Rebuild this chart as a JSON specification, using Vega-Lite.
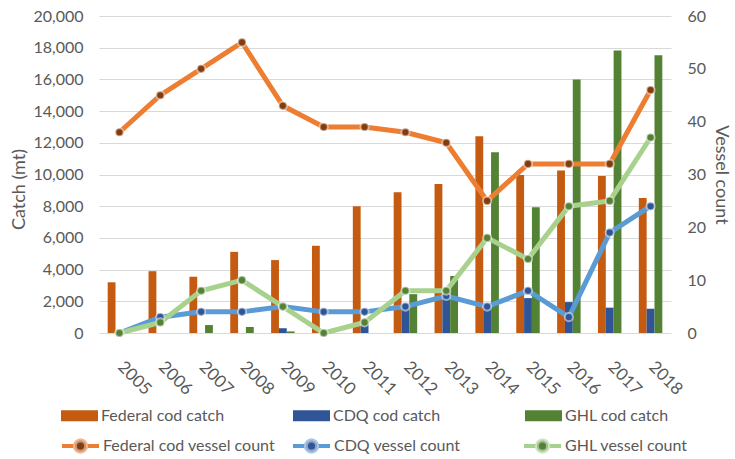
{
  "$schema": "https://vega.github.io/schema/vega-lite/v6.json",
  "width": 572,
  "height": 317,
  "autosize": "none",
  "padding": {"left": 99, "top": 16, "right": 64, "bottom": 126},
  "background": "white",
  "config": {
    "view": {"stroke": null},
    "font": "Lato",
    "axis": {
      "labelFont": "Lato",
      "labelFontSize": 16,
      "labelColor": "#595959",
      "titleFont": "Lato",
      "titleFontSize": 18,
      "titleFontWeight": "normal",
      "titleColor": "#595959",
      "domain": false,
      "ticks": false
    },
    "legend": {
      "orient": "none",
      "direction": "horizontal",
      "columns": 3,
      "gridAlign": "all",
      "title": null,
      "padding": 0,
      "labelFont": "Lato",
      "labelFontSize": 16,
      "labelColor": "#595959",
      "labelOffset": 2,
      "labelLimit": 300,
      "symbolSize": 1369
    }
  },
  "datasets": {
    "catchRows": [
      {"Year": "2005", "Series": "Federal cod catch", "Catch": 3200},
      {"Year": "2006", "Series": "Federal cod catch", "Catch": 3900},
      {"Year": "2007", "Series": "Federal cod catch", "Catch": 3550},
      {"Year": "2008", "Series": "Federal cod catch", "Catch": 5120},
      {"Year": "2009", "Series": "Federal cod catch", "Catch": 4600},
      {"Year": "2010", "Series": "Federal cod catch", "Catch": 5500},
      {"Year": "2011", "Series": "Federal cod catch", "Catch": 8000},
      {"Year": "2012", "Series": "Federal cod catch", "Catch": 8880},
      {"Year": "2013", "Series": "Federal cod catch", "Catch": 9400},
      {"Year": "2014", "Series": "Federal cod catch", "Catch": 12420},
      {"Year": "2015", "Series": "Federal cod catch", "Catch": 9970},
      {"Year": "2016", "Series": "Federal cod catch", "Catch": 10260},
      {"Year": "2017", "Series": "Federal cod catch", "Catch": 9900},
      {"Year": "2018", "Series": "Federal cod catch", "Catch": 8520},
      {"Year": "2005", "Series": "CDQ cod catch", "Catch": 0},
      {"Year": "2006", "Series": "CDQ cod catch", "Catch": 0},
      {"Year": "2007", "Series": "CDQ cod catch", "Catch": 0},
      {"Year": "2008", "Series": "CDQ cod catch", "Catch": 0},
      {"Year": "2009", "Series": "CDQ cod catch", "Catch": 300},
      {"Year": "2010", "Series": "CDQ cod catch", "Catch": 0},
      {"Year": "2011", "Series": "CDQ cod catch", "Catch": 800},
      {"Year": "2012", "Series": "CDQ cod catch", "Catch": 1700},
      {"Year": "2013", "Series": "CDQ cod catch", "Catch": 2400},
      {"Year": "2014", "Series": "CDQ cod catch", "Catch": 1700},
      {"Year": "2015", "Series": "CDQ cod catch", "Catch": 2200},
      {"Year": "2016", "Series": "CDQ cod catch", "Catch": 1950},
      {"Year": "2017", "Series": "CDQ cod catch", "Catch": 1600},
      {"Year": "2018", "Series": "CDQ cod catch", "Catch": 1530},
      {"Year": "2005", "Series": "GHL cod catch", "Catch": 0},
      {"Year": "2006", "Series": "GHL cod catch", "Catch": 0},
      {"Year": "2007", "Series": "GHL cod catch", "Catch": 500},
      {"Year": "2008", "Series": "GHL cod catch", "Catch": 380},
      {"Year": "2009", "Series": "GHL cod catch", "Catch": 100},
      {"Year": "2010", "Series": "GHL cod catch", "Catch": 0},
      {"Year": "2011", "Series": "GHL cod catch", "Catch": 0},
      {"Year": "2012", "Series": "GHL cod catch", "Catch": 2450},
      {"Year": "2013", "Series": "GHL cod catch", "Catch": 3600},
      {"Year": "2014", "Series": "GHL cod catch", "Catch": 11400},
      {"Year": "2015", "Series": "GHL cod catch", "Catch": 7930},
      {"Year": "2016", "Series": "GHL cod catch", "Catch": 16000},
      {"Year": "2017", "Series": "GHL cod catch", "Catch": 17820},
      {"Year": "2018", "Series": "GHL cod catch", "Catch": 17530}
    ],
    "vesselRows": [
      {"Year": "2005", "Series": "Federal cod vessel count", "Vessels": 38},
      {"Year": "2006", "Series": "Federal cod vessel count", "Vessels": 45},
      {"Year": "2007", "Series": "Federal cod vessel count", "Vessels": 50},
      {"Year": "2008", "Series": "Federal cod vessel count", "Vessels": 55},
      {"Year": "2009", "Series": "Federal cod vessel count", "Vessels": 43},
      {"Year": "2010", "Series": "Federal cod vessel count", "Vessels": 39},
      {"Year": "2011", "Series": "Federal cod vessel count", "Vessels": 39},
      {"Year": "2012", "Series": "Federal cod vessel count", "Vessels": 38},
      {"Year": "2013", "Series": "Federal cod vessel count", "Vessels": 36},
      {"Year": "2014", "Series": "Federal cod vessel count", "Vessels": 25},
      {"Year": "2015", "Series": "Federal cod vessel count", "Vessels": 32},
      {"Year": "2016", "Series": "Federal cod vessel count", "Vessels": 32},
      {"Year": "2017", "Series": "Federal cod vessel count", "Vessels": 32},
      {"Year": "2018", "Series": "Federal cod vessel count", "Vessels": 46},
      {"Year": "2005", "Series": "CDQ vessel count", "Vessels": 0},
      {"Year": "2006", "Series": "CDQ vessel count", "Vessels": 3},
      {"Year": "2007", "Series": "CDQ vessel count", "Vessels": 4},
      {"Year": "2008", "Series": "CDQ vessel count", "Vessels": 4},
      {"Year": "2009", "Series": "CDQ vessel count", "Vessels": 5},
      {"Year": "2010", "Series": "CDQ vessel count", "Vessels": 4},
      {"Year": "2011", "Series": "CDQ vessel count", "Vessels": 4},
      {"Year": "2012", "Series": "CDQ vessel count", "Vessels": 5},
      {"Year": "2013", "Series": "CDQ vessel count", "Vessels": 7},
      {"Year": "2014", "Series": "CDQ vessel count", "Vessels": 5},
      {"Year": "2015", "Series": "CDQ vessel count", "Vessels": 8},
      {"Year": "2016", "Series": "CDQ vessel count", "Vessels": 3},
      {"Year": "2017", "Series": "CDQ vessel count", "Vessels": 19},
      {"Year": "2018", "Series": "CDQ vessel count", "Vessels": 24},
      {"Year": "2005", "Series": "GHL vessel count", "Vessels": 0},
      {"Year": "2006", "Series": "GHL vessel count", "Vessels": 2},
      {"Year": "2007", "Series": "GHL vessel count", "Vessels": 8},
      {"Year": "2008", "Series": "GHL vessel count", "Vessels": 10},
      {"Year": "2009", "Series": "GHL vessel count", "Vessels": 5},
      {"Year": "2010", "Series": "GHL vessel count", "Vessels": 0},
      {"Year": "2011", "Series": "GHL vessel count", "Vessels": 2},
      {"Year": "2012", "Series": "GHL vessel count", "Vessels": 8},
      {"Year": "2013", "Series": "GHL vessel count", "Vessels": 8},
      {"Year": "2014", "Series": "GHL vessel count", "Vessels": 18},
      {"Year": "2015", "Series": "GHL vessel count", "Vessels": 14},
      {"Year": "2016", "Series": "GHL vessel count", "Vessels": 24},
      {"Year": "2017", "Series": "GHL vessel count", "Vessels": 25},
      {"Year": "2018", "Series": "GHL vessel count", "Vessels": 37}
    ]
  },
  "layer": [
    {
      "data": {"name": "catchRows"},
      "mark": {"type": "bar"},
      "encoding": {
        "x": {
          "field": "Year",
          "type": "ordinal",
          "scale": {"paddingInner": 0.425, "paddingOuter": 0.2125},
          "axis": {
            "title": null,
            "labelAngle": 45,
            "labelAlign": "left",
            "labelBaseline": "middle",
            "labelPadding": 31,
            "labelOffset": 1,
            "labelFontSize": 17,
            "grid": false
          }
        },
        "xOffset": {
          "field": "Series",
          "type": "nominal",
          "scale": {
            "domain": ["Federal cod catch", "CDQ cod catch", "GHL cod catch"],
            "paddingInner": 0,
            "paddingOuter": 0
          }
        },
        "y": {
          "field": "Catch",
          "type": "quantitative",
          "scale": {"domain": [0, 20000]},
          "axis": {
            "title": "Catch (mt)",
            "values": [0, 2000, 4000, 6000, 8000, 10000, 12000, 14000, 16000, 18000, 20000],
            "format": ",.0f",
            "grid": true,
            "gridColor": "#D9D9D9",
            "gridWidth": 1,
            "labelPadding": 16,
            "titlePadding": 4,
            "titleY": 173
          }
        },
        "color": {
          "field": "Series",
          "type": "nominal",
          "scale": {
            "domain": ["Federal cod catch", "CDQ cod catch", "GHL cod catch"],
            "range": ["#C55A11", "#2F5597", "#548235"]
          },
          "legend": {
            "legendX": -39,
            "legendY": 380,
            "columnPadding": 67,
            "symbolType": "M-1,-0.3H1V0.3H-1Z"
          }
        }
      }
    },
    {
      "data": {"name": "vesselRows"},
      "layer": [
        {
          "mark": {"type": "line", "strokeWidth": 5},
          "encoding": {
            "x": {"field": "Year", "type": "ordinal"},
            "y": {
              "field": "Vessels",
              "type": "quantitative",
              "scale": {"domain": [0, 60]},
              "axis": {
                "orient": "right",
                "title": "Vessel count",
                "values": [0, 10, 20, 30, 40, 50, 60],
                "grid": false,
                "labelPadding": 16,
                "titlePadding": 6
              }
            },
            "stroke": {
              "field": "Series",
              "type": "nominal",
              "scale": {
                "domain": ["Federal cod vessel count", "CDQ vessel count", "GHL vessel count"],
                "range": ["#ED7D31", "#5B9BD5", "#A9D18E"]
              },
              "legend": {
                "legendX": -39,
                "legendY": 409,
                "columnPadding": 9,
                "symbolType": "M-1,0H-0.3M0.3,0H1M0.3,0A0.3,0.3,0,1,1,-0.3,0A0.3,0.3,0,1,1,0.3,0Z",
                "symbolStrokeWidth": 4
              }
            }
          }
        },
        {
          "mark": {"type": "point", "filled": true, "size": 66, "stroke": "white", "strokeWidth": 2, "strokeOpacity": 0.5, "opacity": 1},
          "encoding": {
            "x": {"field": "Year", "type": "ordinal"},
            "y": {"field": "Vessels", "type": "quantitative"},
            "fill": {
              "field": "Series",
              "type": "nominal",
              "scale": {
                "domain": ["CDQ vessel count", "Federal cod vessel count", "GHL vessel count"],
                "range": ["#2F5597", "#843C0C", "#548235"]
              },
              "legend": {
                "values": ["Federal cod vessel count", "CDQ vessel count", "GHL vessel count"],
                "legendX": -39,
                "legendY": 409,
                "columnPadding": 9,
                "labelOpacity": 0,
                "symbolType": "M-1,0M1,0M0.3,0A0.3,0.3,0,1,1,-0.3,0A0.3,0.3,0,1,1,0.3,0Z",
                "symbolStrokeWidth": 4,
                "symbolStrokeColor": "rgba(255,255,255,0.45)"
              }
            }
          }
        }
      ]
    }
  ],
  "resolve": {"scale": {"y": "independent"}}
}
